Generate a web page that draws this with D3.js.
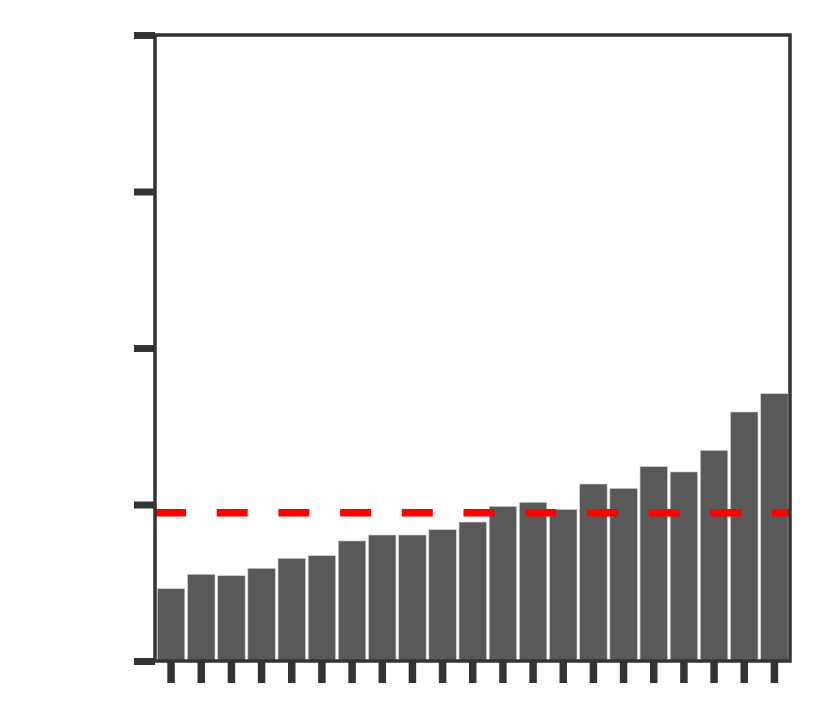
<!DOCTYPE html>
<html>
<head>
<meta charset="utf-8">
<script src="https://cdn.jsdelivr.net/npm/d3@7"></script>
<style>
  html, body { margin: 0; padding: 0; background: #fff; }
  svg { display: block; }
</style>
</head>
<body>
<svg id="chart" width="830" height="722"></svg>
<script>
// ---- data ----
const categories = d3.range(1, 22).map(String);
const values = [0.462, 0.554, 0.545, 0.592, 0.656, 0.673, 0.767, 0.805, 0.805, 0.839,
                0.888, 0.988, 1.014, 0.969, 1.131, 1.103, 1.242, 1.208, 1.346, 1.591, 1.708];
const meanValue = 0.947;
const yTicks = [0, 1, 2, 3, 4];

// ---- layout ----
const svg = d3.select("#chart");
const plotLeft = 155, plotRight = 790, plotTop = 35, plotBottom = 661;
const axisColor = "#333333";

const x = d3.scaleBand().domain(categories).range([plotLeft + 1, plotRight - 0.5]).paddingInner(0.09).paddingOuter(0.045);
const y = d3.scaleLinear().domain([0, 4]).range([plotBottom, plotTop]);

// bars
svg.append("g").selectAll("rect")
  .data(values)
  .join("rect")
  .attr("x", (d, i) => x(categories[i]))
  .attr("width", x.bandwidth())
  .attr("y", d => y(d))
  .attr("height", d => y(0) - y(d))
  .attr("fill", "#595959")
  .attr("stroke", "#d0d0d0")
  .attr("stroke-width", 0.6);

// mean dashed line
svg.append("line")
  .attr("x1", plotLeft).attr("x2", plotRight)
  .attr("y1", y(meanValue)).attr("y2", y(meanValue))
  .attr("stroke", "#ff0000")
  .attr("stroke-width", 7.5)
  .attr("stroke-dasharray", "31,30.7");

// y axis ticks (outside, left)
const yAxis = d3.axisLeft(y).tickValues(yTicks).tickSize(21).tickFormat("");
const gy = svg.append("g").attr("transform", `translate(${plotLeft},0)`).call(yAxis);
gy.select(".domain").remove();
gy.selectAll(".tick line").attr("stroke", axisColor).attr("stroke-width", 7);

// x axis ticks (outside, bottom)
const xAxis = d3.axisBottom(x).tickSize(21).tickFormat("");
const gx = svg.append("g").attr("transform", `translate(0,${plotBottom + 1})`).call(xAxis);
gx.select(".domain").remove();
gx.selectAll(".tick line").attr("stroke", axisColor).attr("stroke-width", 7.5);

// frame
svg.append("rect")
  .attr("x", plotLeft).attr("y", plotTop)
  .attr("width", plotRight - plotLeft).attr("height", plotBottom - plotTop)
  .attr("fill", "none")
  .attr("stroke", axisColor)
  .attr("stroke-width", 3.5);
</script>
</body>
</html>
